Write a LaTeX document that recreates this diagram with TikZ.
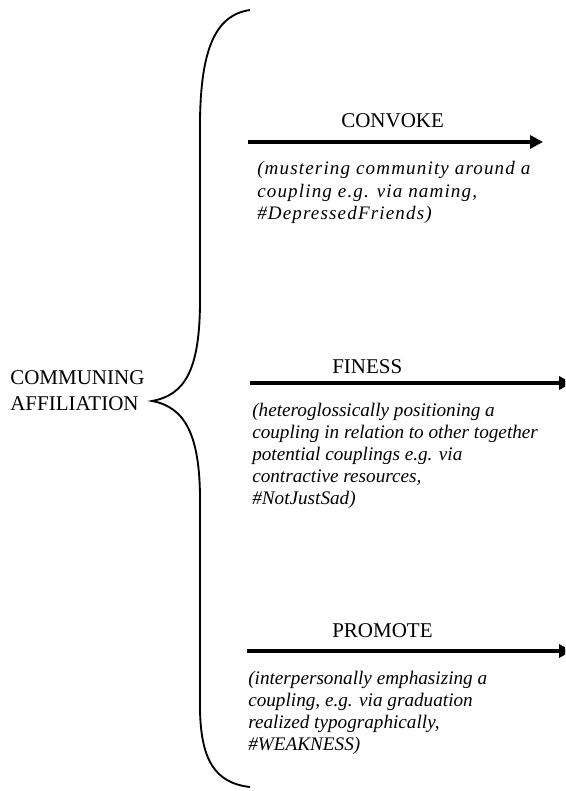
\documentclass[tikz,border=0pt]{standalone}
\usepackage{fontspec}
\setmainfont{Liberation Serif}
\usetikzlibrary{arrows.meta}
\tikzset{
  capslabel/.style={inner sep=0pt, anchor=base west, font=\fontsize{15.75pt}{19.5pt}\selectfont},
  desc/.style={inner sep=0pt, anchor=base west, align=left, font=\fontsize{14.4pt}{16.5pt}\selectfont\itshape},
  arr/.style={line width=2.6pt, -{Triangle[length=9.75pt,width=9.75pt]}},
  bracepath/.style={line width=1.4pt}
}
\begin{document}
\begin{tikzpicture}[x=0.75pt,y=-0.75pt]
\useasboundingbox (0,0) rectangle (565,791);
\clip (0,0) rectangle (565,791);
% root label (base = baseline of last line)
\node[capslabel, align=left] (root) at (10,410) {COMMUNING\\AFFILIATION};
% brace
\coordinate (tip) at (152,401);
\draw[bracepath] (250,10) .. controls (215,15) and (201,50) .. (200,120)
  -- (200,300) .. controls (200,370) and (185,395) .. (tip)
  .. controls (185,407) and (200,435) .. (200,500)
  -- (200,710) .. controls (201,760) and (215,783) .. (250,787);
% arrows
\coordinate (a1s) at (248,142); \coordinate (a1e) at (543,142);
\coordinate (a2s) at (250,383); \coordinate (a2e) at (572,383);
\coordinate (a3s) at (247,651); \coordinate (a3e) at (572,651);
\draw[arr] (a1s) -- (a1e);
\draw[arr] (a2s) -- (a2e);
\draw[arr] (a3s) -- (a3e);
% labels
\node[capslabel] (l1) at (341,128) {CONVOKE};
\node[capslabel] (l2) at (332,373) {FINESS};
\node[capslabel] (l3) at (332,637) {PROMOTE};
% descriptions (base = baseline of last line)
\node[desc, font=\fontsize{14.3pt}{16.9pt}\selectfont\itshape\addfontfeatures{LetterSpace=6}] (d1) at (257,220)
  {(mustering community around a\\coupling e.g. via naming,\\\#DepressedFriends)};
\node[desc] (d2) at (252,504)
  {(heteroglossically positioning a\\coupling in relation to other together\\potential couplings e.g. via\\contractive resources,\\\#NotJustSad)};
\node[desc] (d3) at (248,750)
  {(interpersonally emphasizing a\\coupling, e.g. via graduation\\realized typographically,\\\#WEAKNESS)};
\end{tikzpicture}
\end{document}
